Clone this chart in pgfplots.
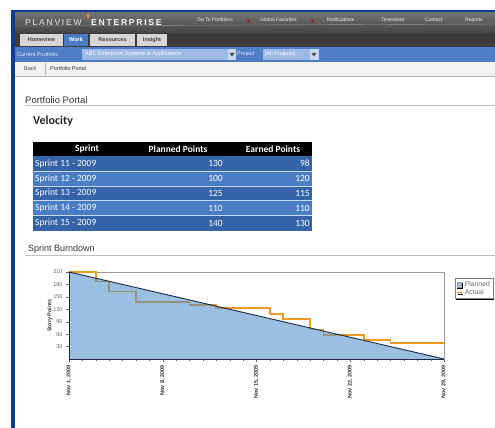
\documentclass[border=0pt]{standalone}
\usepackage{pgfplots}
\pgfplotsset{compat=1.18}
\usepackage{fontspec}
\setmainfont{Liberation Sans}
\newfontfamily\calibri{Carlito}
\newfontfamily\spaced[LetterSpace=20]{Liberation Sans}
\usetikzlibrary{shadows}
\definecolor{navyb}{HTML}{0B3D91}
\definecolor{hdtop}{HTML}{727272}
\definecolor{hdbot}{HTML}{444444}
\definecolor{tabbg}{HTML}{3C3C3C}
\definecolor{tablight}{HTML}{D6D6D6}
\definecolor{worktab}{HTML}{4B7BC2}
\definecolor{barblue}{HTML}{4F7EC6}
\definecolor{fieldblue}{HTML}{9DB9E6}
\definecolor{btnblue}{HTML}{C9D8F0}
\definecolor{rowdark}{HTML}{3565A8}
\definecolor{rowlight}{HTML}{4A7EC4}
\definecolor{planfill}{HTML}{4A8CC8}
\definecolor{planlegend}{HTML}{9EC3E3}
\definecolor{planline}{HTML}{1C2A44}
\definecolor{actorange}{HTML}{F59A20}
\definecolor{framegray}{HTML}{9A9A9A}
\begin{document}
\begin{tikzpicture}
\useasboundingbox (0,0) rectangle (495pt,-428pt);
\clip (0,0) rectangle (495pt,-428pt);
\begin{scope}[x=1pt,y=-1pt]
\fill[white] (0,0) rectangle (495,428);
% outer border
\fill[navyb] (11,10) rectangle (495,13);
\fill[navyb] (11,10) rectangle (15,428);
% header
\shade[top color=hdtop,bottom color=hdbot] (15,13) rectangle (495,33);
\draw[white!60!gray,opacity=0.5] (15,26) -- (495,24);
\node[anchor=west,text=white!80!gray,inner sep=0] at (25,23) {\spaced\fontsize{8.6}{9}\selectfont PLANVIEW};
\node[anchor=west,text=white!95!gray,inner sep=0] at (91,23) {\spaced\bfseries\fontsize{8.6}{9}\selectfont ENTERPRISE};
\fill[actorange] (86.5,14.5) -- (89.5,14.5) -- (88,19.5) -- cycle;
\begin{scope}[every node/.style={anchor=west,inner sep=0,text=white!88!gray,font=\fontsize{5}{6}\selectfont}]
\node at (197,20) {Go To Portfolios};
\node at (260,20) {Global Favorites};
\node at (327,20) {Notifications};
\node at (381,20) {Timesheet};
\node at (425,20) {Contact};
\node at (465,20) {Reports};
\end{scope}
\fill[red!70!black] (247,20) -- (250,20) -- (248.5,22) -- cycle;
\fill[red!70!black] (311,20) -- (314,20) -- (312.5,22) -- cycle;
% tabs row
\fill[tabbg] (15,33) rectangle (495,47);
\fill[tablight] (20,34) rectangle (63,46);
\fill[worktab] (64,34) rectangle (88,46);
\fill[tablight] (90,34) rectangle (135,46);
\fill[tablight] (137,34) rectangle (167,46);
\begin{scope}[every node/.style={inner sep=0,font=\fontsize{5.5}{6}\selectfont\bfseries}]
\node[text=black!75] at (41.5,40) {Homeview};
\node[text=white] at (76,40) {Work};
\node[text=black!75] at (112.5,40) {Resources};
\node[text=black!75] at (152,40) {Insight};
\end{scope}
% blue bar
\fill[barblue] (15,47) rectangle (495,62);
\node[anchor=west,inner sep=0,text=white!90!blue,font=\fontsize{5.5}{6}\selectfont] at (17,54.5) {Current Portfolio:};
\fill[fieldblue] (82,49) rectangle (228,60);
\node[anchor=west,inner sep=0,text=white,font=\fontsize{5.5}{6}\selectfont] at (85,54.5) {ABC Enterprise Systems \& Applications};
\fill[btnblue] (228,49) rectangle (236,60);
\fill[black!70] (229.5,53) -- (234.5,53) -- (232,56.5) -- cycle;
\node[anchor=west,inner sep=0,text=white!90!blue,font=\fontsize{5.5}{6}\selectfont] at (237,54.5) {Project};
\fill[fieldblue] (263,49) rectangle (310,60);
\node[anchor=west,inner sep=0,text=white,font=\fontsize{5.5}{6}\selectfont] at (265,54.5) {[All Projects]};
\fill[btnblue] (310,49) rectangle (319,60);
\fill[black!70] (311.5,53) -- (316.5,53) -- (314,56.5) -- cycle;
% back row
\fill[black!5] (15,62) rectangle (495,76);
\draw[black!30] (15,76) -- (495,76);
\draw[black!30] (45,63) -- (45,75);
\node[anchor=west,inner sep=0,text=black!70,font=\fontsize{5.5}{6}\selectfont] at (24,69) {Back};
\node[anchor=west,inner sep=0,text=black!80,font=\fontsize{5.5}{6}\selectfont] at (50,69) {Portfolio Portal};
% headings
\node[anchor=west,inner sep=0,text=black!80,font=\fontsize{9.5}{11}\selectfont] at (25,100) {Portfolio Portal};
\draw[black!25] (25,105.5) -- (495,105.5);
\node[anchor=west,inner sep=0,text=black!85,font=\calibri\bfseries\fontsize{12}{14}\selectfont] at (33,121) {Velocity};
% table
\fill[black] (33,142) rectangle (312,156);
\begin{scope}[every node/.style={inner sep=0,text=white,font=\calibri\bfseries\fontsize{9.5}{11}\selectfont}]
\node at (87,149) {Sprint};
\node at (178,149) {Planned Points};
\node at (273,149) {Earned Points};
\end{scope}
\fill[rowdark] (33,156) rectangle (312,171);
\fill[rowlight] (33,171) rectangle (312,186);
\fill[rowdark] (33,186) rectangle (312,200.5);
\fill[rowlight] (33,200.5) rectangle (312,215.5);
\fill[rowdark] (33,215.5) rectangle (312,230.5);
\draw[white!70!rowlight] (33,171) -- (312,171) (33,186) -- (312,186) (33,200.5) -- (312,200.5) (33,215.5) -- (312,215.5);
\begin{scope}[every node/.style={inner sep=0,text=white,font=\calibri\fontsize{9.5}{11}\selectfont}]
\node[anchor=west] at (35,163.5) {Sprint 11 - 2009};
\node[anchor=west] at (35,178.5) {Sprint 12 - 2009};
\node[anchor=west] at (35,193.2) {Sprint 13 - 2009};
\node[anchor=west] at (35,208) {Sprint 14 - 2009};
\node[anchor=west] at (35,223) {Sprint 15 - 2009};
\node[anchor=east] at (223,163.5) {130};
\node[anchor=east] at (223,178.5) {100};
\node[anchor=east] at (223,193.2) {125};
\node[anchor=east] at (223,208) {110};
\node[anchor=east] at (223,223) {140};
\node[anchor=east] at (310,163.5) {98};
\node[anchor=east] at (310,178.5) {120};
\node[anchor=east] at (310,193.2) {115};
\node[anchor=east] at (310,208) {110};
\node[anchor=east] at (310,223) {130};
\end{scope}
\node[anchor=west,inner sep=0,text=black!80,font=\fontsize{9}{10}\selectfont] at (28,249) {Sprint Burndown};
\draw[black!25] (25,255.5) -- (495,255.5);
\end{scope}
\begin{axis}[
  at={(69pt,-359pt)}, anchor=south west,
  scale only axis, width=375pt, height=87pt,
  xmin=0, xmax=28, ymin=0, ymax=210,
  axis line style={draw=framegray},
  xtick={0,7,14,21,28},
  xticklabels={{Nov 1, 2009},{Nov 8, 2009},{Nov 15, 2009},{Nov 22, 2009},{Nov 29, 2009}},
  minor x tick num=6,
  ytick={30,60,90,120,150,180,210},
  xtick pos=bottom, ytick pos=left,
  tick align=outside,
  major tick length=3pt, minor tick length=2pt,
  tick style={black!60},
  /pgf/number format/assume math mode=true,
  x tick label style={rotate=90, anchor=east, font=\fontsize{5.5}{6}\selectfont\bfseries, text=black!80},
  y tick label style={font=\fontsize{5.5}{6}\selectfont, text=black!60},
  ylabel={Story Points},
  ylabel style={font=\fontsize{5.5}{6}\selectfont\bfseries, text=black!80, yshift=-6pt},
  legend style={at={(1.0293,0.931)}, anchor=north west, font=\fontsize{6.8}{7}\selectfont, text=black!60,
    draw=black!50, fill=white, inner sep=1pt, row sep=-2.5pt,
    drop shadow={opacity=1, fill=black, shadow xshift=0.8pt, shadow yshift=-1.4pt}},
  legend cell align=left,
  clip=false,
]
\addplot[const plot, actorange, line width=1.8pt, forget plot] coordinates {
 (0,210) (2,187) (3,163) (5,138) (9,130) (11,124) (15,108) (16,96) (18,71) (19,57) (22,45) (24,38) (28,38)
};
\addplot[fill=planfill, fill opacity=0.55, draw=none, forget plot] coordinates {(0,210) (28,0)} \closedcycle;
\addlegendimage{legend image code/.code={\fill[planlegend,draw=black!40,line width=0.3pt] (0pt,-2.3pt) rectangle (4.6pt,2.3pt);}}
\addlegendentry{Planned}
\addplot[planline, line width=0.9pt, forget plot] coordinates {(0,210) (28,0)};
\draw[planline, line width=0.8pt] (axis cs:0,210) -- (axis cs:0,0) -- (axis cs:28,0);
\addlegendimage{legend image code/.code={\draw[actorange, line width=1.2pt] (0pt,0pt) -- (5.5pt,0pt);}}
\addlegendentry{Actual}
\end{axis}
\end{tikzpicture}
\end{document}
